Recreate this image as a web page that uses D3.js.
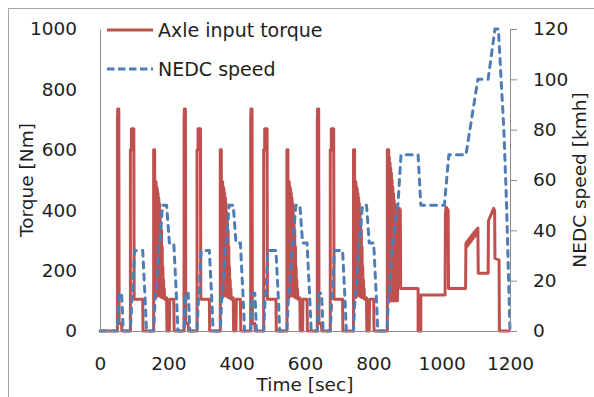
<!DOCTYPE html>
<html>
<head>
<meta charset="utf-8">
<script src="https://cdn.jsdelivr.net/npm/d3@7/dist/d3.min.js"></script>
<style>
  body { margin: 0; background: #fff; }
  svg text { font-family: "DejaVu Sans", sans-serif; fill: #1e1e1e; }
</style>
</head>
<body>
<div id="wrapper"></div>
<script>
// [time (sec), axle input torque (Nm)]
const torquePoints = [
  [0, 0], [51, 0], [51, 700], [52, 735], [55, 735], [56, 25], [63, 25], [64, 0],
  [89, 0], [89, 600], [92, 600], [92, 670], [99, 670], [100, 105], [125, 105], [126, 0],
  [157, 0], [157, 600], [160, 600], [161, 110], [162, 494], [163, 110], [164, 494], [165, 115], [166, 478],
  [167, 115], [168, 470], [169, 120], [170, 456], [171, 120], [172, 440], [173, 120], [174, 423], [175, 115],
  [176, 390], [177, 115], [178, 360], [179, 115], [180, 334], [181, 110], [182, 279], [183, 110], [184, 213],
  [185, 110], [186, 170], [187, 110], [188, 140], [189, 105], [195, 110], [196, 0], [203, 0], [204, 105], [216, 105], [217, 0],

  [246, 0], [246, 700], [247, 735], [250, 735], [251, 25], [258, 25], [259, 0],
  [284, 0], [284, 600], [287, 600], [287, 670], [294, 670], [295, 105], [320, 105], [321, 0],
  [352, 0], [352, 600], [355, 600], [356, 110], [357, 494], [358, 110], [359, 494], [360, 115], [361, 478],
  [362, 115], [363, 470], [364, 120], [365, 456], [366, 120], [367, 440], [368, 120], [369, 423], [370, 115],
  [371, 390], [372, 115], [373, 360], [374, 115], [375, 334], [376, 110], [377, 279], [378, 110], [379, 213],
  [380, 110], [381, 170], [382, 110], [383, 140], [384, 105], [390, 110], [391, 0], [398, 0], [399, 105], [411, 105], [412, 0],

  [441, 0], [441, 700], [442, 735], [445, 735], [446, 25], [453, 25], [454, 0],
  [479, 0], [479, 600], [482, 600], [482, 670], [489, 670], [490, 105], [515, 105], [516, 0],
  [547, 0], [547, 600], [550, 600], [551, 110], [552, 494], [553, 110], [554, 494], [555, 115], [556, 478],
  [557, 115], [558, 470], [559, 120], [560, 456], [561, 120], [562, 440], [563, 120], [564, 423], [565, 115],
  [566, 390], [567, 115], [568, 360], [569, 115], [570, 334], [571, 110], [572, 279], [573, 110], [574, 213],
  [575, 110], [576, 170], [577, 110], [578, 140], [579, 105], [585, 110], [586, 0], [593, 0], [594, 105], [606, 105], [607, 0],

  [636, 0], [636, 700], [637, 735], [640, 735], [641, 25], [648, 25], [649, 0],
  [674, 0], [674, 600], [677, 600], [677, 670], [684, 670], [685, 105], [710, 105], [711, 0],
  [742, 0], [742, 600], [745, 600], [746, 110], [747, 494], [748, 110], [749, 494], [750, 115], [751, 478],
  [752, 115], [753, 470], [754, 120], [755, 456], [756, 120], [757, 440], [758, 120], [759, 423], [760, 115],
  [761, 390], [762, 115], [763, 360], [764, 115], [765, 334], [766, 110], [767, 279], [768, 110], [769, 213],
  [770, 110], [771, 170], [772, 110], [773, 140], [774, 105], [780, 110], [781, 0], [788, 0], [789, 105], [801, 105], [802, 0],

  [841, 0], [841, 600], [845, 600], [846, 100], [847, 575], [848, 100], [849, 556], [850, 100], [851, 540],
  [852, 100], [853, 522], [854, 100], [855, 500], [856, 100], [857, 477], [858, 100], [859, 455], [860, 100],
  [861, 434], [862, 100], [863, 420], [864, 100], [865, 400], [866, 100], [871, 100], [872, 390], [876, 407],
  [879, 400], [880, 141], [931, 141], [931, 0], [939, 0], [939, 119], [1010, 119], [1011, 390], [1013, 410],
  [1019, 400], [1020, 141], [1070, 141], [1071, 290], [1072, 278], [1074, 296], [1076, 282], [1078, 302],
  [1080, 288], [1082, 308], [1084, 294], [1086, 314], [1088, 300], [1090, 320], [1092, 306], [1094, 326],
  [1096, 312], [1098, 331], [1100, 317], [1102, 336], [1104, 322], [1106, 341], [1107, 191], [1136, 191],
  [1137, 365], [1152, 406], [1155, 400], [1156, 241], [1168, 235], [1169, 0], [1200, 0]
]

// [time (sec), NEDC speed (kmh)]
const speedPoints = [
  [0, 0], [51, 0], [55, 15], [63, 15], [65, 10], [68, 0], [89, 0], [94, 15], [96, 15], [101, 32], [125, 32],
  [133, 10], [136, 0], [157, 0], [162, 15], [164, 15], [173, 35], [175, 35], [183, 50], [195, 50], [203, 35],
  [216, 35], [225, 10], [228, 0],
  [246, 0], [250, 15], [258, 15], [260, 10], [263, 0], [284, 0], [289, 15], [291, 15], [296, 32], [320, 32],
  [328, 10], [331, 0], [352, 0], [357, 15], [359, 15], [368, 35], [370, 35], [378, 50], [390, 50], [398, 35],
  [411, 35], [420, 10], [423, 0],
  [441, 0], [445, 15], [453, 15], [455, 10], [458, 0], [479, 0], [484, 15], [486, 15], [491, 32], [515, 32],
  [523, 10], [526, 0], [547, 0], [552, 15], [554, 15], [563, 35], [565, 35], [573, 50], [585, 50], [593, 35],
  [606, 35], [615, 10], [618, 0],
  [636, 0], [640, 15], [648, 15], [650, 10], [653, 0], [674, 0], [679, 15], [681, 15], [686, 32], [710, 32],
  [718, 10], [721, 0], [742, 0], [747, 15], [749, 15], [758, 35], [760, 35], [768, 50], [780, 50], [788, 35],
  [801, 35], [810, 10], [813, 0],
  [840, 0], [845, 15], [847, 15], [856, 35], [858, 35], [870, 50], [872, 50], [881, 70], [931, 70], [939, 50],
  [1008, 50], [1021, 70], [1071, 70], [1106, 100], [1136, 100], [1156, 120], [1166, 120], [1182, 80],
  [1190, 50], [1200, 0]
]

const timeTicks = [0, 200, 400, 600, 800, 1000, 1200]
const torqueTicks = [0, 200, 400, 600, 800, 1000]
const speedTicks = [0, 20, 40, 60, 80, 100, 120]
const seriesNames = ["Axle input torque", "NEDC speed"]

function drawChart() {

  //1. Access data
  const xAccessor = d => d[0]
  const yAccessor = d => d[1]

  //2. Chart dimensions
  const dimensions = {
    width: 594,
    height: 397,
    margin: { top: 29, right: 84, bottom: 66, left: 100 }
  }
  dimensions.boundedWidth = dimensions.width
    - dimensions.margin.left - dimensions.margin.right
  dimensions.boundedHeight = dimensions.height
    - dimensions.margin.top - dimensions.margin.bottom

  //3. Canvas
  const wrapper = d3.select("#wrapper")
    .append("svg")
    .attr("width", dimensions.width)
    .attr("height", dimensions.height)

  // outer frame, only top and left edges show inside the picture
  wrapper.append("rect")
    .attr("x", 8.5)
    .attr("y", 8.5)
    .attr("width", 620)
    .attr("height", 420)
    .attr("fill", "none")
    .attr("stroke", "#a6a6a6")

  const bounds = wrapper.append("g")
    .attr("transform", `translate(${dimensions.margin.left}, ${dimensions.margin.top})`)

  //4. Scales
  const xScale = d3.scaleLinear()
    .domain([0, 1200])
    .range([0, dimensions.boundedWidth])

  const torqueScale = d3.scaleLinear()
    .domain([0, 1000])
    .range([dimensions.boundedHeight, 0])

  const speedScale = d3.scaleLinear()
    .domain([0, 120])
    .range([dimensions.boundedHeight, 0])

  //5. Draw data
  const torqueLine = d3.line()
    .x(d => xScale(xAccessor(d)))
    .y(d => torqueScale(yAccessor(d)))

  const speedLine = d3.line()
    .x(d => xScale(xAccessor(d)))
    .y(d => speedScale(yAccessor(d)))

  bounds.append("path")
    .attr("d", torqueLine(torquePoints))
    .attr("fill", "none")
    .attr("stroke", "#c0504d")
    .attr("stroke-width", 3)
    .attr("stroke-linejoin", "round")

  bounds.append("path")
    .attr("d", speedLine(speedPoints))
    .attr("fill", "none")
    .attr("stroke", "#4f7db5")
    .attr("stroke-width", 3)
    .attr("stroke-dasharray", "6,6")
    .attr("stroke-linecap", "round")
    .attr("stroke-linejoin", "round")

  //6. Peripherals
  const styleAxis = (axis, size) => {
    axis.attr("font-family", null).attr("font-size", null)
    axis.select(".domain").attr("stroke", "#8c8c8c")
    axis.selectAll(".tick line").attr("stroke", "#8c8c8c")
    axis.selectAll("text").style("font-size", size + "px")
  }
  //plain numbers, no thousands comma
  const plain = d3.format("d")

  const xAxis = bounds.append("g")
    .attr("transform", `translate(0, ${dimensions.boundedHeight})`)
    .call(d3.axisBottom(xScale).tickValues(timeTicks).tickFormat(plain).tickSize(0).tickPadding(26))
  styleAxis(xAxis, 18.5)

  const yAxis = bounds.append("g")
    .call(d3.axisLeft(torqueScale).tickValues(torqueTicks).tickFormat(plain).tickSize(0).tickPadding(23))
  styleAxis(yAxis, 18.5)

  const y2Axis = bounds.append("g")
    .attr("transform", `translate(${dimensions.boundedWidth}, 0)`)
    .call(d3.axisRight(speedScale).tickValues(speedTicks).tickFormat(plain).tickSize(7).tickSizeOuter(0).tickPadding(16))
  styleAxis(y2Axis, 18.5)

  xAxis.append("text")
    .attr("x", dimensions.boundedWidth / 2)
    .attr("y", 60)
    .attr("text-anchor", "middle")
    .style("font-size", "18.5px")
    .text("Time [sec]")

  yAxis.append("text")
    .attr("transform", `translate(${-dimensions.margin.left + 33}, ${180 - dimensions.margin.top}) rotate(-90)`)
    .attr("text-anchor", "middle")
    .style("font-size", "18.5px")
    .text("Torque [Nm]")

  y2Axis.append("text")
    .attr("transform", `translate(76, ${180 - dimensions.margin.top}) rotate(-90)`)
    .attr("text-anchor", "middle")
    .style("font-size", "18.5px")
    .text("NEDC speed [kmh]")

  // legend, top left inside the plot
  const legend = bounds.append("g")
    .attr("transform", "translate(7, 1)")

  const legendItems = legend.selectAll("g")
    .data(seriesNames)
    .join("g")
    .attr("transform", (d, i) => `translate(0, ${i * 39})`)

  legendItems.append("line")
    .attr("x1", 0)
    .attr("x2", 46)
    .attr("stroke", (d, i) => i == 0 ? "#c0504d" : "#4f7db5")
    .attr("stroke-width", 3)
    .attr("stroke-dasharray", (d, i) => i == 0 ? null : "7.5,3.5")

  legendItems.append("text")
    .attr("x", 51)
    .attr("y", 7)
    .style("font-size", "19px")
    .text(d => d)
}
drawChart()
</script>
</body>
</html>
